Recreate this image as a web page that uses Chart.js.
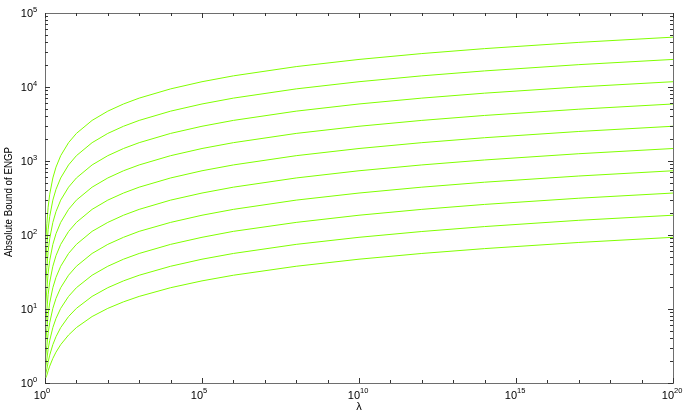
<!DOCTYPE html>
<html>
<head>
<meta charset="utf-8">
<script src="https://cdn.jsdelivr.net/npm/chart.js@4/dist/chart.umd.min.js"></script>
<style>
  html, body { margin: 0; padding: 0; background: #fff; }
  #wrap { width: 692px; height: 415px; position: relative; }
</style>
</head>
<body>
<div id="wrap"><canvas id="graph"></canvas></div>
<script>
// lambda sample positions (x axis, log scale)
const lambdas = [1, 1.0023, 1.0069, 1.0233, 1.0715, 1.1482, 1.2589, 1.4125, 1.7783, 2.2387, 3.1623,
  5.6234, 10, 31.623, 100, 316.23, 1e3, 1e4, 1e5, 1e6, 1e8, 1e10, 1e12, 1e14, 1e17, 1e20];

// absolute bound, bottom curve first
const curve1 = [1, 1.0046, 1.0138, 1.046, 1.138, 1.276, 1.46, 1.69, 2.15, 2.61, 3.30, 4.45, 5.61, 7.91, 10.2, 12.5, 14.8, 19.4, 24.0, 28.6, 37.8, 47.1, 56.3, 65.5, 79.3, 93.1];
const curve2 = [1, 1.0092, 1.0276, 1.092, 1.276, 1.553, 1.92, 2.38, 3.30, 4.22, 5.61, 7.91, 10.2, 14.8, 19.4, 24.0, 28.6, 37.8, 47.1, 56.3, 74.7, 93.1, 111.5, 130, 158, 185];
const curve3 = [1, 1.018, 1.055, 1.184, 1.55, 2.11, 2.84, 3.76, 5.61, 7.45, 10.2, 14.8, 19.4, 28.6, 37.8, 47.1, 56.3, 74.7, 93.1, 112, 148, 185, 222, 259, 314, 369];
const curve4 = [1, 1.037, 1.11, 1.37, 2.11, 3.21, 4.68, 6.53, 10.2, 13.9, 19.4, 28.6, 37.8, 56.3, 74.7, 93.1, 112, 148, 185, 222, 296, 369, 443, 517, 627, 738];
const curve5 = [1, 1.074, 1.22, 1.74, 3.21, 5.42, 8.37, 12.1, 19.4, 26.8, 37.8, 56.3, 74.7, 112, 148, 185, 222, 296, 369, 443, 590, 738, 885, 1033, 1254, 1475];
const curve6 = [1, 1.147, 1.44, 2.47, 5.42, 9.84, 15.7, 23.1, 37.8, 52.6, 74.7, 111.5, 148, 222, 296, 369, 443, 590, 738, 885, 1180, 1475, 1769, 2064, 2506, 2948];
const curve7 = [1, 1.29, 1.88, 3.95, 9.84, 18.7, 30.5, 45.2, 74.7, 104, 148, 222, 296, 443, 590, 738, 885, 1180, 1475, 1769, 2359, 2948, 3538, 4127, 5011, 5896];
const curve8 = [1, 1.59, 2.77, 6.89, 18.7, 36.4, 60, 89.4, 148, 207, 296, 443, 590, 885, 1180, 1475, 1769, 2359, 2948, 3538, 4717, 5896, 7075, 8253, 10022, 11790];
const curve9 = [1, 2.18, 4.54, 12.8, 36.4, 71.7, 119, 178, 296, 414, 590, 885, 1180, 1769, 2359, 2948, 3538, 4717, 5896, 7075, 9432, 11790, 14148, 16506, 20043, 23579];
const curve10 = [1, 3.36, 8.07, 24.6, 71.7, 142, 237, 355, 590, 826, 1180, 1769, 2359, 3538, 4717, 5896, 7075, 9432, 11790, 14148, 18863, 23579, 28295, 33011, 40084, 47158];
const curves = [curve1, curve2, curve3, curve4, curve5, curve6, curve7, curve8, curve9, curve10];

// axis ticks
const xTickExps = [0, 5, 10, 15, 20];
const yTickExps = [0, 1, 2, 3, 4, 5];
const xTitle = 'λ';
const yTitle = 'Absolute Bound of ENGP';

const lineColor = '#80ff00';
const font = '"Liberation Sans", Arial, Helvetica, sans-serif';

const matlabAxes = {
  id: 'matlabAxes',
  afterDraw(c) {
    const ctx = c.ctx;
    const a = c.chartArea;
    const xs = c.scales.x, ys = c.scales.y;
    ctx.save();

    // box
    ctx.strokeStyle = '#6e6e6e';
    ctx.lineWidth = 1;
    ctx.strokeRect(Math.round(a.left) + 0.5, Math.round(a.top) + 0.5,
      Math.round(a.right - a.left), Math.round(a.bottom - a.top));

    // ticks pointing inward
    ctx.strokeStyle = '#333';
    ctx.beginPath();
    for (let e = 0; e <= 20; e++) {
      const px = Math.round(xs.getPixelForValue(Math.pow(10, e))) + 0.5;
      const len = e % 5 === 0 ? 5 : 3;
      ctx.moveTo(px, a.bottom); ctx.lineTo(px, a.bottom - len);
      ctx.moveTo(px, a.top); ctx.lineTo(px, a.top + len);
    }
    for (let n = 0; n <= 4; n++) {
      for (let m = 1; m <= 9; m++) {
        const py = Math.round(ys.getPixelForValue(m * Math.pow(10, n))) + 0.5;
        const len = m === 1 ? 5 : 3;
        ctx.moveTo(a.left, py); ctx.lineTo(a.left + len, py);
        ctx.moveTo(a.right, py); ctx.lineTo(a.right - len, py);
      }
    }
    ctx.stroke();

    // tick labels: 10 with raised exponent
    ctx.fillStyle = '#000';
    ctx.textBaseline = 'alphabetic';
    xTickExps.forEach(e => {
      const px = xs.getPixelForValue(Math.pow(10, e)) + 1;
      ctx.font = '11px ' + font;
      ctx.textAlign = 'right';
      ctx.fillText('10', px, 399);
      ctx.font = '7.5px ' + font;
      ctx.textAlign = 'left';
      ctx.fillText(String(e), px, 393);
    });
    yTickExps.forEach(e => {
      const py = ys.getPixelForValue(Math.pow(10, e));
      ctx.font = '11px ' + font;
      ctx.textAlign = 'right';
      ctx.fillText('10', 33, py + 4);
      ctx.font = '7.5px ' + font;
      ctx.textAlign = 'left';
      ctx.fillText(String(e), 33, py - 1);
    });

    // axis titles
    ctx.font = '11px ' + font;
    ctx.textAlign = 'center';
    ctx.fillText(xTitle, (a.left + a.right) / 2, 410);

    ctx.translate(12, 202);
    ctx.rotate(-Math.PI / 2);
    const w = ctx.measureText(yTitle).width;
    ctx.scale(Math.min(1, 110 / w), 1);
    ctx.fillText(yTitle, 0, 0);
    ctx.restore();
  }
};

new Chart(document.getElementById('graph'), {
  type: 'line',
  data: {
    datasets: curves.map((vals, i) => ({
      label: 'curve ' + (i + 1),
      data: lambdas.map((x, j) => ({ x: x, y: vals[j] })),
      borderColor: lineColor,
      borderWidth: 1,
      pointRadius: 0,
      tension: 0,
      fill: false
    }))
  },
  options: {
    responsive: true,
    maintainAspectRatio: false,
    animation: false,
    layout: { padding: { left: 45, right: 19, top: 13, bottom: 32 } },
    plugins: { legend: { display: false }, tooltip: { enabled: false } },
    scales: {
      x: { type: 'logarithmic', min: 1, max: 1e20, display: false },
      y: { type: 'logarithmic', min: 1, max: 1e5, display: false }
    }
  },
  plugins: [matlabAxes]
});
</script>
</body>
</html>
